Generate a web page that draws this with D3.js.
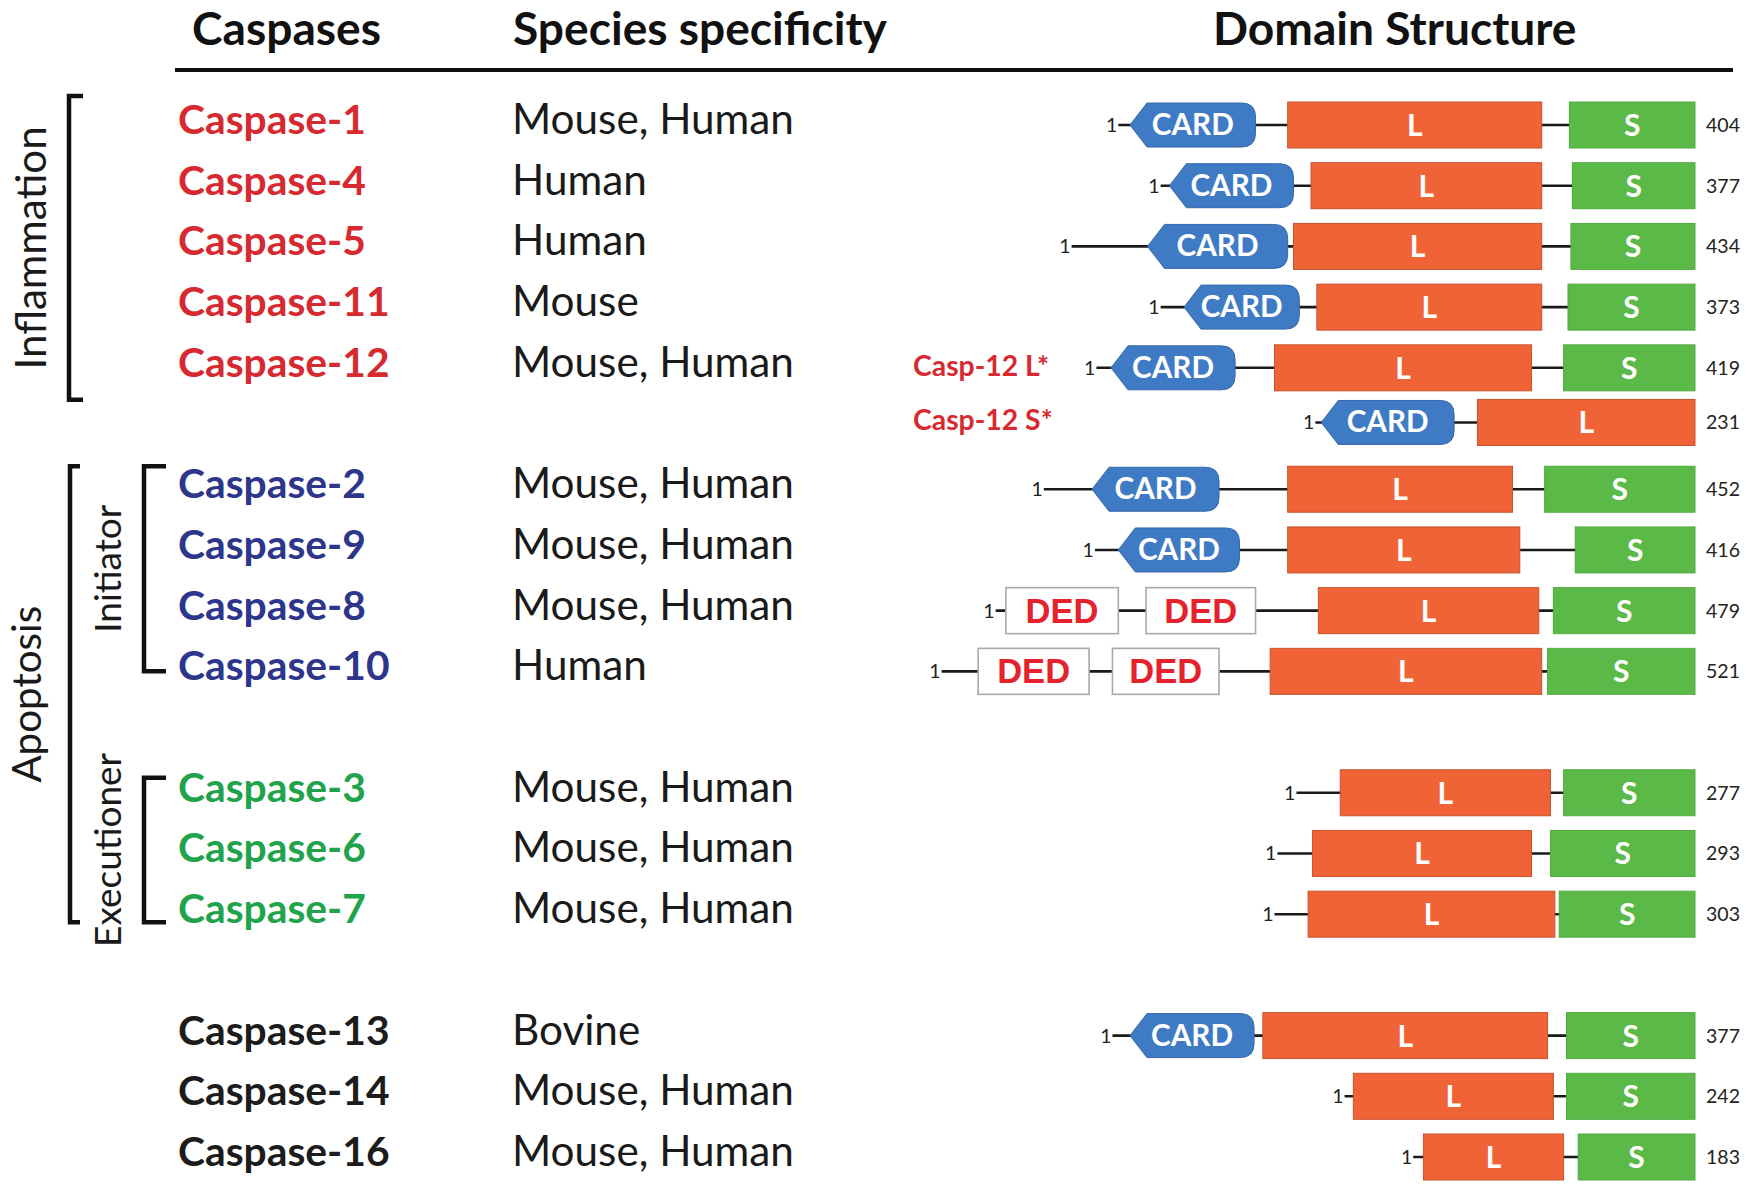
<!DOCTYPE html>
<html><head><meta charset="utf-8">
<script src="https://cdn.jsdelivr.net/npm/d3@7"></script>
<style>html,body{margin:0;padding:0;background:#fff} svg{display:block}</style>
</head><body>
<svg id="chart" width="1747" height="1194"></svg>
<script>
// ---------------- DATA ----------------
const headers = ["Caspases", "Species specificity", "Domain Structure"];
const names = ["Caspase-1","Caspase-4","Caspase-5","Caspase-11","Caspase-12","",
  "Caspase-2","Caspase-9","Caspase-8","Caspase-10",
  "Caspase-3","Caspase-6","Caspase-7",
  "Caspase-13","Caspase-14","Caspase-16"];
const isoformLabels = ["","","","","Casp-12 L*","Casp-12 S*","","","","","","","","","",""];
const species = ["Mouse, Human","Human","Human","Mouse","Mouse, Human","",
  "Mouse, Human","Mouse, Human","Mouse, Human","Human",
  "Mouse, Human","Mouse, Human","Mouse, Human",
  "Bovine","Mouse, Human","Mouse, Human"];
const groups = ["inflammation","inflammation","inflammation","inflammation","inflammation","inflammation",
  "initiator","initiator","initiator","initiator",
  "executioner","executioner","executioner",
  "other","other","other"];
const lengths = [404,377,434,373,419,231,452,416,479,521,277,293,303,377,242,183];
// drawn positions, in residues counted back from the C-terminus
const nStart = [395,366,427,366,410,260,446,411,479,516,273,286,288,399,240,193];
const domains = [
  [["CARD",387,301],["L",279,105],["S",86,0]],
  [["CARD",360,275],["L",263,105],["S",84,0]],
  [["CARD",375,279],["L",275,105],["S",85,0]],
  [["CARD",350,271],["L",259,105],["S",87,0]],
  [["CARD",400,315],["L",288,112],["S",90,0]],
  [["CARD",256,165],["L",149,0]],
  [["CARD",413,326],["L",279,125],["S",103,0]],
  [["CARD",395,312],["L",279,120],["S",82,0]],
  [["DED",472,395],["DED",376,301],["L",258,107],["S",97,0]],
  [["DED",491,415],["DED",399,326],["L",291,105],["S",101,0]],
  [["L",243,99],["S",90,0]],
  [["L",262,112],["S",99,0]],
  [["L",265,96],["S",93,0]],
  [["CARD",387,302],["L",296,101],["S",88,0]],
  [["L",234,97],["S",88,0]],
  [["L",186,90],["S",80,0]]
];
const groupLabels = ["Inflammation","Apoptosis","Initiator","Executioner"];

// ---------------- STYLE ----------------
const FONT = "Lato, 'Open Sans', sans-serif";
const groupColor = {inflammation:"#d62a30", initiator:"#2e368c", executioner:"#1fa34b", other:"#1c1c1c"};
const domainFill = {CARD:"#3f7bc4", L:"#ef6337", S:"#5bb947", DED:"#ffffff"};
const domainStroke = {CARD:"#3568ab", L:"#c9522d", S:"#52ab40", DED:"#a9a9a9"};

const svg = d3.select("#chart");

function fitSize(text, weight, family, target) {
  const base = 40;
  const t = svg.append("text").attr("font-family", family).attr("font-weight", weight)
    .attr("font-size", base).text(text);
  const w = t.node().getComputedTextLength();
  t.remove();
  return base * target / w;
}

// ---------------- ROWS / SCALES ----------------
const rows = names.map((n, i) => ({
  name: n, iso: isoformLabels[i], species: species[i], group: groups[i],
  len: lengths[i], start: nStart[i], doms: domains[i]
}));
let slot = 0;
rows.forEach((r, i) => {
  if (i > 0) {
    const prev = rows[i - 1];
    if (r.name === "") slot += 0.9;
    else if (prev.name === "") slot += 1.1;
    else slot += 1;
    if (r.group !== prev.group && (r.group === "executioner" || r.group === "other")) slot += 1;
  }
  r.slot = slot;
});
const y = d3.scaleLinear().domain([0, 17]).range([125, 1157]);
const x = d3.scaleLinear().domain([0, 560]).range([1695, 1695 - 560 * 1.46]);

// ---------------- HEADER ----------------
const headSize = fitSize("Species specificity", 700, FONT, 374);
const headX = [192, 513, 1213];
svg.selectAll("text.head").data(headers).join("text")
  .attr("class", "head")
  .attr("x", (d, i) => headX[i]).attr("y", 45)
  .attr("font-family", FONT).attr("font-weight", 700).attr("font-size", headSize)
  .attr("fill", "#111").text(d => d);
svg.append("line").attr("x1", 175).attr("x2", 1733).attr("y1", 70).attr("y2", 70)
  .attr("stroke", "#111").attr("stroke-width", 4);

// ---------------- LEFT COLUMNS ----------------
const nameSize = fitSize("Caspase-1", 700, FONT, 188);
const specSize = fitSize("Mouse, Human", 400, FONT, 282);
svg.selectAll("text.name").data(rows.filter(r => r.name)).join("text")
  .attr("class", "name")
  .attr("x", 178).attr("y", r => y(r.slot) + 9)
  .attr("font-family", FONT).attr("font-weight", 700).attr("font-size", nameSize)
  .attr("fill", r => groupColor[r.group]).text(r => r.name);
svg.selectAll("text.spec").data(rows.filter(r => r.species)).join("text")
  .attr("class", "spec")
  .attr("x", 512).attr("y", r => y(r.slot) + 9)
  .attr("font-family", FONT).attr("font-weight", 400).attr("font-size", specSize)
  .attr("fill", "#1a1a1a").text(r => r.species);

// brackets
function rowY(name) { return y(rows.find(r => r.name === name).slot); }
const bracketDefs = [
  {x: 69, tick: 14, y0: rowY("Caspase-1") - 29, y1: rowY("Caspase-12") + 32},
  {x: 70, tick: 10, y0: rowY("Caspase-2") - 23, y1: rowY("Caspase-7") + 8},
  {x: 144, tick: 22, y0: rowY("Caspase-2") - 23, y1: rowY("Caspase-10")},
  {x: 144, tick: 22, y0: rowY("Caspase-3") - 15, y1: rowY("Caspase-7") + 8}
];
svg.selectAll("path.bracket").data(bracketDefs).join("path")
  .attr("class", "bracket")
  .attr("d", b => `M${b.x + b.tick},${b.y0}H${b.x}V${b.y1}H${b.x + b.tick}`)
  .attr("fill", "none").attr("stroke", "#111").attr("stroke-width", 4.5)
  .attr("stroke-linejoin", "miter");

const bigSize = fitSize("Inflammation", 400, FONT, 243);
const smallSize = fitSize("Executioner", 400, FONT, 194);
const glabX = [46, 41, 121, 121];
const glabSize = [bigSize, bigSize * 0.96, smallSize, smallSize];
svg.selectAll("text.glab").data(groupLabels).join("text")
  .attr("class", "glab")
  .attr("transform", (d, i) => {
    const b = bracketDefs[i];
    return `translate(${glabX[i]},${(b.y0 + b.y1) / 2}) rotate(-90)`;
  })
  .attr("text-anchor", "middle")
  .attr("font-family", FONT).attr("font-weight", 400)
  .attr("font-size", (d, i) => glabSize[i])
  .attr("fill", "#1a1a1a").text(d => d);

// isoform labels
const isoSize = fitSize("Casp-12 L*", 700, FONT, 136);
svg.selectAll("text.iso").data(rows.filter(r => r.iso)).join("text")
  .attr("class", "iso")
  .attr("x", 913).attr("y", r => y(r.slot) + 8)
  .attr("font-family", FONT).attr("font-weight", 700).attr("font-size", isoSize)
  .attr("fill", "#d62a30").text(r => r.iso);

// ---------------- DOMAIN STRUCTURES ----------------
const numSize = fitSize("404", 400, FONT, 34);
const cardSize = fitSize("CARD", 700, FONT, 82);
const dedSize = fitSize("DED", 700, "'Liberation Sans', Arial, sans-serif", 73);
const H = 46, HC = 44;

const rowG = svg.selectAll("g.row").data(rows).join("g")
  .attr("class", "row")
  .attr("transform", r => `translate(0,${y(r.slot)})`);

// backbone line
rowG.append("line")
  .attr("x1", r => x(r.start)).attr("x2", r => x(0))
  .attr("y1", 0).attr("y2", 0)
  .attr("stroke", "#1a1a1a").attr("stroke-width", 2.6);

// "1" label
rowG.append("text")
  .attr("x", r => x(r.start) - 1).attr("y", 7)
  .attr("text-anchor", "end")
  .attr("font-family", FONT).attr("font-size", numSize)
  .attr("fill", "#222").text("1");

// length label
rowG.append("text")
  .attr("x", x(0) + 11).attr("y", 7)
  .attr("font-family", FONT).attr("font-size", numSize)
  .attr("fill", "#222").text(r => r.len);

function cardPath(x0, x1, h) {
  const t = -h / 2, b = h / 2, c = 17, rr = 14;
  return `M${x0},0L${x0 + c},${t}L${x1 - rr},${t}Q${x1},${t} ${x1},${t + rr}` +
    `L${x1},${b - rr}Q${x1},${b} ${x1 - rr},${b}L${x0 + c},${b}Z`;
}

const domG = rowG.selectAll("g.dom")
  .data(r => r.doms.map(d => ({type: d[0], x0: x(d[1]), x1: x(d[2])})))
  .join("g").attr("class", "dom");

domG.filter(d => d.type === "CARD").append("path")
  .attr("d", d => cardPath(d.x0, d.x1, HC))
  .attr("fill", domainFill.CARD).attr("stroke", domainStroke.CARD).attr("stroke-width", 1);

domG.filter(d => d.type !== "CARD").append("rect")
  .attr("x", d => d.x0).attr("width", d => d.x1 - d.x0)
  .attr("y", -H / 2).attr("height", H)
  .attr("fill", d => domainFill[d.type]).attr("stroke", d => domainStroke[d.type])
  .attr("stroke-width", d => d.type === "DED" ? 1.6 : 1);

domG.append("text")
  .attr("x", d => (d.x0 + d.x1) / 2)
  .attr("y", d => d.type === "DED" ? 12 : (d.type === "CARD" ? 10 : 11))
  .attr("text-anchor", "middle")
  .attr("font-family", d => d.type === "DED" ? "'Liberation Sans', Arial, sans-serif" : FONT)
  .attr("font-weight", 700)
  .attr("font-size", d => d.type === "CARD" ? cardSize : d.type === "DED" ? dedSize : 30)
  .attr("fill", d => d.type === "DED" ? "#e5222b" : "#ffffff")
  .text(d => d.type);
</script>
</body></html>
